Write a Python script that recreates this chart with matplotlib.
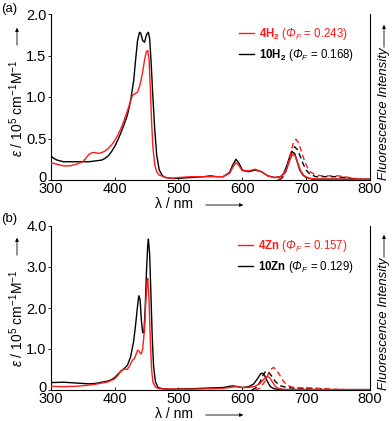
import numpy as np
import matplotlib.pyplot as plt
import matplotlib.transforms as mtransforms
from matplotlib.patches import FancyArrowPatch

plt.rcParams['font.family'] = ['Liberation Sans', 'DejaVu Sans']
plt.rcParams['mathtext.fontset'] = 'custom'
plt.rcParams['mathtext.rm'] = 'Liberation Sans'
plt.rcParams['mathtext.it'] = 'Liberation Sans:italic'
plt.rcParams['mathtext.bf'] = 'Liberation Sans:bold'
# italic font under the sf slot so that capital Greek letters come out slanted
plt.rcParams['mathtext.sf'] = 'Liberation Sans:italic'

# ---- panel (a): 4H2 / 10H2 ----
wl_10H2 = [300, 305, 310, 320, 330, 340, 350, 360, 370, 380, 385, 390, 395, 400, 405, 410, 415, 420,
           425, 430, 433, 436, 439, 441, 444, 447, 450, 453, 455, 457, 460, 463, 466, 470, 475, 480,
           490, 500, 520, 540, 550, 560, 570, 580, 585, 590, 595, 600, 610, 620, 630, 640, 650, 660,
           665, 670, 675, 678, 682, 686, 690, 695, 700, 710, 720, 750, 800]
abs_10H2 = [0.29, 0.26, 0.24, 0.22, 0.22, 0.22, 0.22, 0.22, 0.23, 0.24, 0.26, 0.29, 0.34, 0.40, 0.48,
            0.57, 0.67, 0.78, 0.95, 1.20, 1.45, 1.68, 1.78, 1.77, 1.68, 1.66, 1.75, 1.78, 1.70, 1.45,
            1.00, 0.60, 0.30, 0.12, 0.05, 0.03, 0.02, 0.02, 0.03, 0.04, 0.05, 0.04, 0.04, 0.09, 0.18,
            0.25, 0.20, 0.12, 0.10, 0.12, 0.10, 0.05, 0.03, 0.04, 0.08, 0.18, 0.30, 0.34, 0.32, 0.22,
            0.12, 0.06, 0.03, 0.01, 0.01, 0.01, 0.01]

wl_4H2 = [300, 310, 320, 330, 340, 350, 355, 360, 365, 370, 375, 380, 385, 390, 395, 400, 405, 410,
          415, 420, 425, 428, 432, 436, 440, 444, 447, 450, 452, 454, 456, 458, 460, 463, 466, 470,
          480, 490, 500, 520, 540, 550, 560, 570, 580, 585, 590, 595, 600, 610, 620, 630, 640, 650,
          660, 665, 670, 675, 679, 683, 687, 692, 697, 705, 720, 800]
abs_4H2 = [0.21, 0.19, 0.17, 0.17, 0.19, 0.22, 0.26, 0.31, 0.33, 0.33, 0.32, 0.33, 0.35, 0.38, 0.42,
           0.47, 0.54, 0.62, 0.72, 0.83, 0.95, 1.02, 1.04, 1.06, 1.15, 1.30, 1.45, 1.55, 1.56, 1.45,
           1.10, 0.70, 0.40, 0.18, 0.10, 0.06, 0.03, 0.02, 0.03, 0.04, 0.04, 0.04, 0.04, 0.04, 0.08,
           0.15, 0.21, 0.17, 0.11, 0.11, 0.13, 0.10, 0.05, 0.03, 0.04, 0.07, 0.14, 0.25, 0.31, 0.29,
           0.20, 0.10, 0.05, 0.02, 0.01, 0.01]

fwl_4H2 = [655, 660, 665, 670, 675, 680, 684, 688, 692, 697, 702, 708, 715, 725, 740, 750, 760, 775, 790]
fl_4H2 = [0.00, 0.02, 0.06, 0.15, 0.30, 0.45, 0.49, 0.45, 0.36, 0.24, 0.15, 0.09, 0.06, 0.05, 0.05,
          0.05, 0.04, 0.02, 0.01]
fwl_10H2 = [658, 663, 668, 673, 678, 682, 686, 690, 695, 700, 706, 715, 730, 745, 760, 780]
fl_10H2 = [0.00, 0.03, 0.10, 0.22, 0.35, 0.40, 0.37, 0.30, 0.20, 0.12, 0.07, 0.04, 0.04, 0.04, 0.03, 0.01]

# ---- panel (b): 4Zn / 10Zn ----
wl_10Zn = [300, 320, 340, 360, 370, 380, 390, 395, 400, 405, 410, 415, 420, 425, 430, 433, 436, 438,
           440, 442, 444, 446, 448, 450, 452, 453, 455, 457, 459, 461, 464, 468, 475, 490, 520, 550,
           570, 580, 585, 590, 600, 610, 618, 624, 629, 632, 635, 639, 644, 650, 660, 680, 800]
abs_10Zn = [0.18, 0.19, 0.17, 0.15, 0.16, 0.19, 0.22, 0.25, 0.30, 0.38, 0.46, 0.52, 0.60, 0.80, 1.20,
            1.60, 2.05, 2.30, 2.20, 1.70, 1.40, 1.40, 2.00, 2.90, 3.55, 3.68, 3.30, 2.30, 1.30, 0.60,
            0.20, 0.06, 0.03, 0.02, 0.03, 0.05, 0.06, 0.09, 0.10, 0.09, 0.06, 0.08, 0.15, 0.28, 0.40,
            0.41, 0.35, 0.22, 0.08, 0.03, 0.01, 0.01, 0.01]

wl_4Zn = [300, 320, 340, 360, 370, 380, 390, 400, 405, 410, 415, 420, 424, 428, 431, 434, 436, 438,
          440, 442, 444, 447, 449, 451, 452, 454, 456, 458, 460, 464, 470, 490, 520, 550, 570, 580,
          590, 600, 610, 620, 628, 634, 639, 643, 647, 652, 658, 670, 800]
abs_4Zn = [0.09, 0.08, 0.09, 0.12, 0.14, 0.17, 0.20, 0.27, 0.35, 0.47, 0.51, 0.50, 0.60, 0.73, 0.76,
           0.88, 0.97, 0.96, 0.90, 0.88, 1.00, 1.50, 2.20, 2.65, 2.72, 2.20, 1.20, 0.50, 0.20, 0.07,
           0.03, 0.02, 0.02, 0.03, 0.04, 0.06, 0.08, 0.06, 0.06, 0.09, 0.16, 0.27, 0.33, 0.30, 0.20,
           0.08, 0.03, 0.01, 0.01]

fwl_4Zn = [620, 628, 635, 641, 646, 649, 653, 658, 664, 670, 678, 690, 705, 720, 740, 760]
fl_4Zn = [0.00, 0.05, 0.20, 0.40, 0.52, 0.55, 0.50, 0.38, 0.22, 0.12, 0.07, 0.05, 0.05, 0.04, 0.02, 0.01]
fwl_10Zn = [615, 622, 628, 633, 637, 641, 646, 652, 660, 670, 685, 700, 720, 740]
fl_10Zn = [0.00, 0.06, 0.20, 0.38, 0.46, 0.44, 0.34, 0.20, 0.10, 0.06, 0.04, 0.04, 0.03, 0.01]

red = '#ff1a1a'
black = '#000000'

fig = plt.figure(figsize=(3.92, 4.21), dpi=100)
W, H = 392, 421
ax_a = fig.add_axes([50.7 / W, 1 - 180 / H, 319.3 / W, 166 / H])
ax_b = fig.add_axes([50.7 / W, 1 - 390 / H, 319.3 / W, 164 / H])

phi = r'$\mathsf{Φ_F}$'
panels = [
    (ax_a, (wl_4H2, abs_4H2, fwl_4H2, fl_4H2), (wl_10H2, abs_10H2, fwl_10H2, fl_10H2),
     [r'$\mathbf{4H_2}$ (' + phi + ' = 0.243)', r'$\mathbf{10H_2}$ (' + phi + ' = 0.168)'],
     2.0, [0, 0.5, 1.0, 1.5, 2.0], ['0', '0.5', '1.0', '1.5', '2.0']),
    (ax_b, (wl_4Zn, abs_4Zn, fwl_4Zn, fl_4Zn), (wl_10Zn, abs_10Zn, fwl_10Zn, fl_10Zn),
     [r'$\mathbf{4Zn}$ (' + phi + ' = 0.157)', r'$\mathbf{10Zn}$ (' + phi + ' = 0.129)'],
     4.0, [0, 1, 2, 3, 4], ['0', '1.0', '2.0', '3.0', '4.0']),
]

for ax, r, k, labels, ymax, yt, ytl in panels:
    ax.plot(r[0], r[1], color=red, lw=1.0, label=labels[0], zorder=3)
    ax.plot(k[0], k[1], color=black, lw=1.0, label=labels[1], zorder=2)
    ax.plot(r[2], r[3], color=red, lw=1.0, ls=(0, (4, 2.5)), zorder=3)
    ax.plot(k[2], k[3], color=black, lw=1.0, ls=(0, (4, 2.5)), zorder=2)
    ax.set_xlim(300, 800)
    ax.set_ylim(0, ymax)
    ax.set_xticks([300, 400, 500, 600, 700, 800])
    ax.set_yticks(yt)
    ax.set_yticklabels(ytl)
    ax.spines['top'].set_visible(False)
    for s in ['left', 'right', 'bottom']:
        ax.spines[s].set_linewidth(0.8)
    ax.tick_params(axis='x', direction='in', length=2, width=0.6, labelsize=10.5, pad=1.5)
    ax.tick_params(axis='y', direction='out', length=2, width=0.6, labelsize=10.5, pad=1)
    # lift the "0" a little so it clears the "300" below it
    zero = ax.get_yticklabels()[0]
    zero.set_transform(zero.get_transform() + mtransforms.ScaledTranslation(0, 4 / 100, fig.dpi_scale_trans))
    ax.legend(loc='upper right', bbox_to_anchor=(0.965, 0.955), frameon=False, fontsize=8.3,
              handlelength=1.3, handletextpad=0.45, labelspacing=0.4, borderaxespad=0,
              labelcolor='linecolor')

arrow = dict(arrowstyle='-|>', lw=0.6, color='black', mutation_scale=5)

for top, bot, lbl in [(0, 180, '(a)'), (210, 390, '(b)')]:
    fig.text(1 / W, 1 - (top + 9) / H, lbl, fontsize=9.5, va='center', ha='left')
    # y label with arrow
    fig.text(17 / W, 1 - (top + 108) / H, r'$\mathit{ε}$ / 10$^{5}$ cm$^{-1}$M$^{-1}$', rotation=90,
             fontsize=10, ha='center', va='center')
    fig.add_artist(FancyArrowPatch(
        (17 / W, 1 - (top + 48) / H), (17 / W, 1 - (top + 25) / H),
        transform=fig.transFigure, **arrow))
    # right label with arrow
    fig.text(384 / W, 1 - (top + 114) / H, 'Fluorescence Intensity', rotation=90, style='italic',
             fontsize=9.5, ha='center', va='center')
    fig.add_artist(FancyArrowPatch(
        (384 / W, 1 - (top + 50) / H), (384 / W, 1 - (top + 22) / H),
        transform=fig.transFigure, **arrow))
    # x label with arrow
    fig.text(174 / W, 1 - (bot + 24.5) / H, 'λ / nm', fontsize=10, ha='center', va='center')
    fig.add_artist(FancyArrowPatch(
        (203 / W, 1 - (bot + 25) / H), (246 / W, 1 - (bot + 25) / H),
        transform=fig.transFigure, **arrow))

fig.savefig('out.png', dpi=100)
